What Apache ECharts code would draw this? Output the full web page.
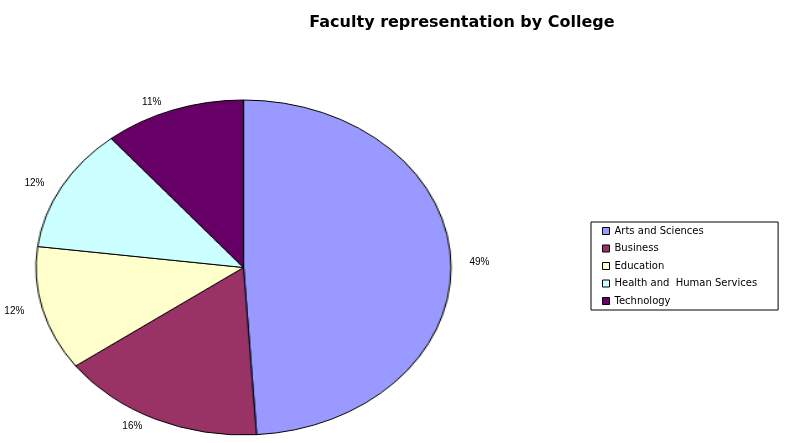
<!DOCTYPE html>
<html><head><meta charset="utf-8">
<script src="https://cdn.jsdelivr.net/npm/echarts@6/dist/echarts.min.js"></script>
<style>
html,body{margin:0;padding:0;background:#fff;}
#wrap{position:relative;width:785px;height:443px;overflow:hidden;}
#pie{position:absolute;left:0;top:0;width:785px;height:443px;transform-origin:243.5px 0;}
#over{position:absolute;left:0;top:0;width:785px;height:443px;}
</style></head>
<body>
<div id="wrap"><div id="pie"></div><div id="over"></div></div>
<script>
const categories = ['Arts and Sciences', 'Business', 'Education', 'Health and  Human Services', 'Technology'];
const values = [49, 16, 12, 12, 11];
const colors = ['#9999FF', '#993366', '#FFFFCC', '#CCFFFF', '#660066'];
const titleText = 'Faculty representation by College';

const CX = 243.5, CY = 267.5, RY = 167.5, RX = 207.5;
const K = RX / RY;
document.getElementById('pie').style.transform = 'scaleX(' + K + ')';

const pieChart = echarts.init(document.getElementById('pie'), null, { renderer: 'canvas' });
pieChart.setOption({
  animation: false,
  series: [{
    type: 'pie', center: [CX, CY], radius: RY, startAngle: 90, clockwise: true,
    silent: true, label: { show: false }, labelLine: { show: false },
    itemStyle: { borderColor: '#000', borderWidth: 1 },
    data: categories.map((c, i) => ({ name: c, value: values[i], itemStyle: { color: colors[i] } }))
  }]
});

const over = echarts.init(document.getElementById('over'), null, { renderer: 'canvas' });
over.setOption({
  animation: false,
  title: {
    text: titleText, left: 457, top: 10, textAlign: 'center',
    textStyle: { fontFamily: 'DejaVu Sans', fontSize: 16, fontWeight: 'bold', color: '#000' }
  },
  legend: {
    orient: 'vertical', left: 591, top: 222,
    borderColor: '#000', borderWidth: 1, padding: [3, 21, 3, 11],
    itemWidth: 7, itemHeight: 7, itemGap: 5.5, icon: 'rect',
    textStyle: { fontFamily: 'DejaVu Sans', fontSize: 10, color: '#000', lineHeight: 12 },
    selectedMode: false,
    data: categories.map((c, i) => ({ name: c, itemStyle: { color: colors[i], borderColor: '#000', borderWidth: 1, opacity: 1 } }))
  },
  series: [{
    type: 'pie', center: [CX, CY], radius: RY, startAngle: 90, clockwise: true,
    silent: true,
    itemStyle: { color: 'rgba(0,0,0,0)', borderWidth: 0 },
    label: {
      show: true, position: 'outside', formatter: '{d}%', distance: 4,
      fontFamily: 'Liberation Sans', fontSize: 10, color: '#000'
    },
    labelLine: { show: false, length: 8, length2: 0 },
    labelLayout: function (p) {
      const r = p.labelRect;
      const c = r.x + r.width / 2;
      return { x: CX + (c - CX) * K, align: 'center' };
    },
    data: categories.map((c, i) => ({ name: c, value: values[i] }))
  }]
});
</script>
</body></html>
